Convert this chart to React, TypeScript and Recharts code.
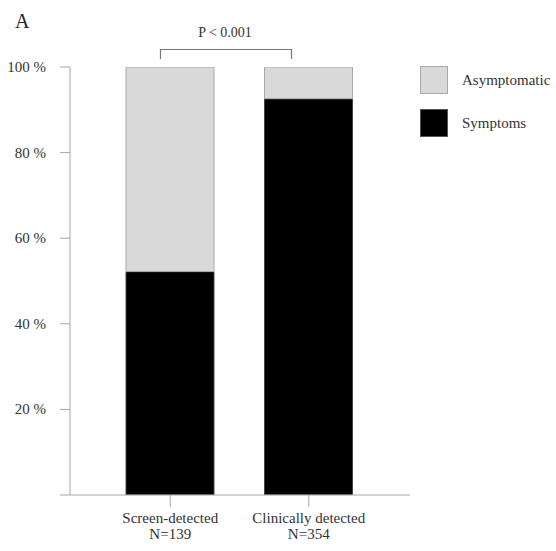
import { BarChart, Bar, XAxis, YAxis } from 'recharts';

const groups = ['Screen-detected', 'Clinically detected'];
const groupN = ['N=139', 'N=354'];
const symptoms = [52.2, 92.6];
const asymptomatic = [47.8, 7.4];
const yTicks = [0, 20, 40, 60, 80, 100];

const FONT = '"Liberation Serif", "Times New Roman", serif';
const AXIS = '#a6a6a6';

const data = groups.map((g, i) => ({
  name: g,
  n: groupN[i],
  symptoms: symptoms[i],
  asymptomatic: asymptomatic[i],
}));

const legendItems = [
  { label: 'Asymptomatic', color: '#d9d9d9', border: '#aaa' },
  { label: 'Symptoms', color: '#000', border: '#555' },
];

const XTick = (props: any) => {
  const { x, y, payload, index } = props;
  return (
    <g>
      <text x={x} y={y + 14} textAnchor="middle" fontSize={15} fill="#333" fontFamily={FONT}>
        {payload.value}
      </text>
      <text x={x} y={y + 30} textAnchor="middle" fontSize={15} fill="#333" fontFamily={FONT}>
        {groupN[index]}
      </text>
    </g>
  );
};

const YTick = (props: any) => {
  const { x, y, payload } = props;
  if (payload.value === 0) return <g />;
  return (
    <text x={x} y={y + 5} textAnchor="end" fontSize={15} fill="#333" fontFamily={FONT}>
      {payload.value} %
    </text>
  );
};

export default function App() {
  return (
    <div style={{ position: 'absolute', left: 0, top: 0, width: 556, height: 551, background: '#fff' }}>
      <BarChart
        width={556}
        height={551}
        data={data}
        margin={{ top: 67, right: 146, bottom: 0, left: 0 }}
        barSize={88}
      >
        <XAxis
          dataKey="name"
          height={56}
          padding={{ left: 31, right: 32 }}
          tick={<XTick />}
          tickSize={12}
          tickLine={{ stroke: AXIS }}
          axisLine={{ stroke: AXIS }}
          interval={0}
        />
        <YAxis
          width={70}
          domain={[0, 100]}
          ticks={yTicks}
          tick={<YTick />}
          tickSize={10}
          tickMargin={14}
          tickLine={{ stroke: AXIS }}
          axisLine={{ stroke: AXIS }}
          allowDataOverflow
        />
        <Bar dataKey="symptoms" stackId="a" fill="#000" stroke="#444" strokeWidth={1} isAnimationActive={false} />
        <Bar dataKey="asymptomatic" stackId="a" fill="#d9d9d9" stroke="#aaa" strokeWidth={1} isAnimationActive={false} />
      </BarChart>
      <div style={{ position: 'absolute', left: 420, top: 66, fontFamily: FONT, fontSize: 15, color: '#333' }}>
        {legendItems.map((it, i) => (
          <div key={it.label} style={{ display: 'flex', alignItems: 'center', height: 28, marginBottom: i === 0 ? 15 : 0 }}>
            <div style={{ width: 28, height: 28, background: it.color, border: `1px solid ${it.border}`, boxSizing: 'border-box' }} />
            <span style={{ marginLeft: 14 }}>{it.label}</span>
          </div>
        ))}
      </div>
      <svg width={556} height={70} style={{ position: 'absolute', left: 0, top: 0 }}>
        <text x={15} y={28} fontSize={20} fill="#222" fontFamily={FONT}>A</text>
        <text x={225} y={37} textAnchor="middle" fontSize={14} fill="#333" fontFamily={FONT}>P &lt; 0.001</text>
        <path d="M160.5 59 V49.5 H291.5 V59" fill="none" stroke="#777" strokeWidth={1.2} />
      </svg>
    </div>
  );
}
